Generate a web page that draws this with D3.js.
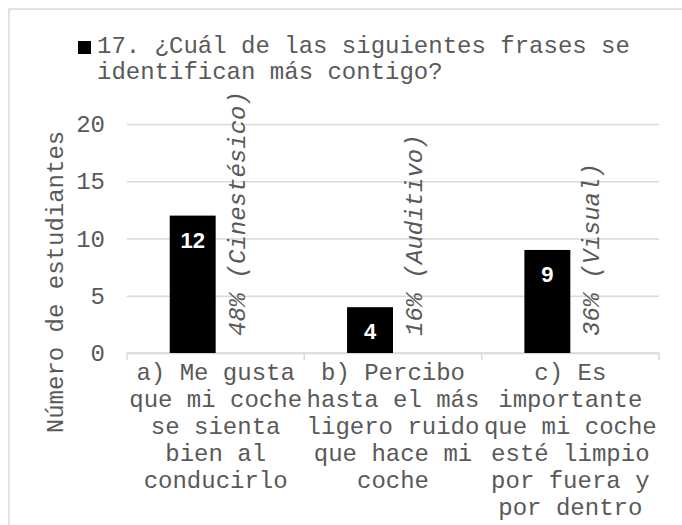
<!DOCTYPE html>
<html>
<head>
<meta charset="utf-8">
<script src="https://cdn.jsdelivr.net/npm/d3@7"></script>
<style>
  body { margin: 0; background: #fff; }
  text { font-family: "Liberation Mono", "Courier New", monospace; fill: #595959; }
</style>
</head>
<body>
<svg id="chart" width="682" height="525"></svg>
<script>
var titleLines = ["17. ¿Cuál de las siguientes frases se", "identifican más contigo?"];
var yTitle = "Número de estudiantes";
var categories = ["a", "b", "c"];
var categoryLabels = [
  ["a) Me gusta", "que mi coche", "se sienta", "bien al", "conducirlo"],
  ["b) Percibo", "hasta el más", "ligero ruido", "que hace mi", "coche"],
  ["c) Es", "importante", "que mi coche", "esté limpio", "por fuera y", "por dentro"]
];
var values = [12, 4, 9];
var percents = [48, 16, 36];
var styles = ["Cinestésico", "Auditivo", "Visual"];
var yTicks = [0, 5, 10, 15, 20];

var svg = d3.select("#chart"),
  plotLeft = 127, plotRight = 659, plotTop = 124, plotBottom = 353;

// chart frame (runs off the right and bottom edges)
svg.append("rect")
  .attr("x", 9).attr("y", 9)
  .attr("width", 700).attr("height", 540)
  .attr("fill", "none").attr("stroke", "#d9d9d9").attr("stroke-width", 1.5);

var x = d3.scaleBand().domain(categories).range([plotLeft, plotRight]);
var xInner = d3.scaleBand().domain(["count", "pct"]).range([0, x.bandwidth()])
  .paddingInner(0).paddingOuter(0.93);
var y = d3.scaleLinear().domain([0, 20]).range([plotBottom, plotTop]);

// y axis with gridlines
var yAxis = svg.append("g")
  .attr("transform", "translate(" + plotLeft + ",0)")
  .call(d3.axisLeft(y).tickValues(yTicks).tickSize(-(plotRight - plotLeft)).tickPadding(22));
yAxis.select(".domain").remove();
yAxis.selectAll(".tick line").attr("stroke", "#d9d9d9").attr("stroke-width", 1.5);
yAxis.selectAll(".tick text")
  .attr("fill", "#595959")
  .style("font-family", "'Liberation Mono', 'Courier New', monospace")
  .style("font-size", "24px")
  .attr("dy", "0.32em");

// x axis line and boundary ticks
svg.append("line")
  .attr("x1", plotLeft).attr("x2", plotRight).attr("y1", plotBottom).attr("y2", plotBottom)
  .attr("stroke", "#d9d9d9").attr("stroke-width", 1.5);
var bounds = categories.map(function(c) { return x(c); }).concat([plotRight]);
svg.selectAll(".xtick").data(bounds).enter().append("line")
  .attr("x1", function(d) { return d; }).attr("x2", function(d) { return d; })
  .attr("y1", plotBottom).attr("y2", plotBottom + 7)
  .attr("stroke", "#d9d9d9").attr("stroke-width", 1.5);

// bars
svg.selectAll(".bar").data(values).enter().append("rect")
  .attr("x", function(d, i) { return x(categories[i]) + xInner("count"); })
  .attr("y", function(d) { return y(d); })
  .attr("width", xInner.bandwidth())
  .attr("height", function(d) { return y(0) - y(d); })
  .attr("fill", "#000");

// value labels inside the bars
svg.selectAll(".val").data(values).enter().append("text")
  .attr("x", function(d, i) { return x(categories[i]) + xInner("count") + xInner.bandwidth() / 2; })
  .attr("y", function(d) { return y(d) + 32; })
  .attr("text-anchor", "middle")
  .style("font-family", "'Liberation Sans', Arial, sans-serif")
  .style("font-size", "22px")
  .style("font-weight", "bold")
  .style("fill", "#fff")
  .text(function(d) { return d; });

// rotated percentage labels (second, hidden series)
svg.selectAll(".pct").data(percents).enter().append("text")
  .attr("transform", function(d, i) {
    var cx = x(categories[i]) + xInner("pct") + xInner.bandwidth() / 2 + 6;
    return "translate(" + cx + "," + (plotBottom - 17) + ") rotate(-90)";
  })
  .style("font-size", "24px")
  .style("font-style", "italic")
  .text(function(d, i) { return d + "% (" + styles[i] + ")"; });

// category labels
svg.selectAll(".cat").data(categoryLabels).enter().append("text")
  .attr("text-anchor", "middle")
  .style("font-size", "24px")
  .each(function(lines, i) {
    var t = d3.select(this);
    lines.forEach(function(l, j) {
      t.append("tspan")
        .attr("x", x(categories[i]) + x.bandwidth() / 2)
        .attr("y", 380 + j * 27)
        .text(l);
    });
  });

// y axis title
svg.append("text")
  .attr("transform", "translate(63," + ((131 + 433) / 2) + ") rotate(-90)")
  .attr("text-anchor", "middle")
  .style("font-size", "24px")
  .text(yTitle);

// legend / title
svg.append("rect")
  .attr("x", 78).attr("y", 41).attr("width", 13).attr("height", 13)
  .attr("fill", "#000");
svg.selectAll(".title").data(titleLines).enter().append("text")
  .attr("x", 97)
  .attr("y", function(d, i) { return 53 + i * 26; })
  .style("font-size", "24px")
  .text(function(d) { return d; });
</script>
</body>
</html>
